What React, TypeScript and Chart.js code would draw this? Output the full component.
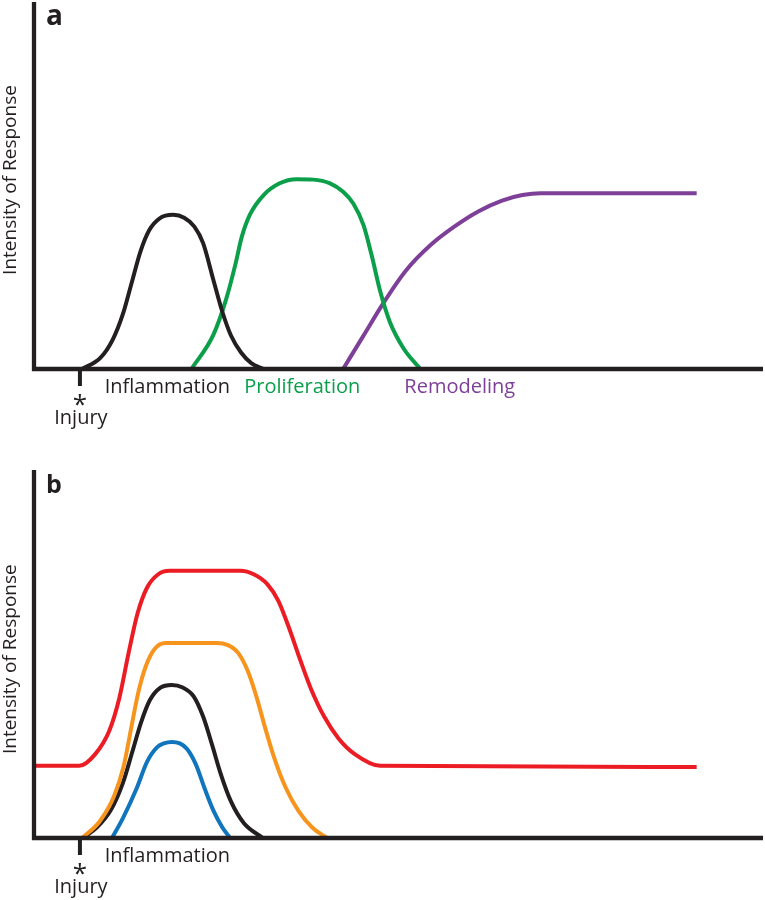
import React, { useEffect, useRef } from 'react';
import { Chart, registerables } from 'chart.js';

Chart.register(...registerables);

const FONT = '"Open Sans", "Noto Sans", sans-serif';
const INK = '#231f20';

// ---------- shared axis text ----------
const yAxisTitle = 'Intensity of Response';
const injuryLabel = 'Injury';
const injuryMark = '*';
const injuryDay = 6.3;

// ---------- panel a ----------
const phaseLabelsA = ['Inflammation', 'Proliferation', 'Remodeling'];
const phaseLabelXA = [18.3, 36.8, 58.4];
const phaseColorsA = [INK, '#0b9f4a', '#7d3f98'];

const inflammationAX = [6.6, 9.1, 10.8, 12.2, 13.4, 14.6, 15.8, 17.2, 19.1, 20.6, 22.0, 23.2, 24.6, 25.8, 27.0, 28.4, 29.8, 31.5];
const inflammationAY = [0, 3.0, 8.0, 15.0, 23.5, 32.0, 37.8, 41.0, 42.0, 41.2, 38.8, 34.3, 24.3, 15.8, 9.2, 4.5, 1.6, 0];

const proliferationX = [21.6, 24.6, 26.4, 27.6, 28.5, 29.6, 31.5, 33.7, 36.0, 38.3, 40.6, 42.4, 43.8, 45.2, 46.3, 47.5, 48.8, 50.7, 53.0];
const proliferationY = [0, 9.3, 19.3, 28.3, 36.0, 42.0, 47.4, 50.6, 51.7, 51.6, 50.6, 48.3, 45.1, 39.2, 31.1, 21.1, 12.9, 5.6, 0];

const remodelingX = [42.4, 45.2, 47.9, 51.0, 54.4, 57.8, 61.0, 64.2, 67.0, 69.5, 90.9];
const remodelingY = [0, 9.1, 17.9, 26.8, 33.8, 39.0, 43.0, 45.9, 47.4, 47.9, 47.9];

// ---------- panel b ----------
const phaseLabelsB = ['Inflammation'];
const phaseLabelXB = [18.3];
const phaseColorsB = [INK];

const redX = [0, 6.2, 8.4, 10.3, 11.7, 13.0, 14.2, 15.5, 17.0, 18.6, 28.3, 30.2, 32.0, 33.5, 35.0, 36.5, 38.0, 39.8, 41.8, 44.0, 47.5, 90.9];
const redY = [19.6, 19.6, 22.8, 29.0, 38.0, 50.5, 61.0, 68.0, 71.6, 72.6, 72.6, 71.6, 69.0, 64.5, 57.0, 48.5, 40.5, 33.0, 27.0, 22.8, 19.6, 19.3];

const orangeX = [6.6, 9.0, 11.0, 12.3, 13.3, 14.3, 15.4, 16.6, 18.0, 25.1, 26.6, 28.0, 29.3, 30.5, 31.7, 33.0, 34.5, 36.3, 38.2, 40.2];
const orangeY = [0, 4.5, 11.5, 19.5, 29.5, 39.5, 47.0, 51.5, 53.0, 53.0, 52.4, 50.3, 45.5, 38.5, 30.0, 21.5, 13.8, 7.3, 2.8, 0];

const blackBX = [6.7, 8.6, 10.6, 12.2, 13.5, 14.7, 15.9, 17.3, 18.9, 20.4, 21.9, 23.2, 24.4, 25.6, 27.0, 28.8, 31.4];
const blackBY = [0, 2.8, 7.8, 15.0, 23.5, 31.5, 37.5, 40.8, 41.6, 40.9, 38.5, 33.0, 25.5, 17.5, 10.0, 4.0, 0];

const blueX = [10.7, 12.2, 14.1, 15.5, 16.9, 17.8, 18.9, 20.0, 21.0, 22.2, 23.4, 24.6, 25.8, 26.9];
const blueY = [0, 5.4, 13.6, 20.7, 24.7, 25.7, 26.1, 25.7, 24.2, 20.0, 13.5, 7.5, 3.0, 0];

const toPoints = (xs: number[], ys: number[]) => xs.map((x, i) => ({ x, y: ys[i] }));

const line = (xs: number[], ys: number[], color: string) => ({
  data: toPoints(xs, ys),
  borderColor: color,
  backgroundColor: color,
  borderWidth: 4,
  pointRadius: 0,
  fill: false,
  cubicInterpolationMode: 'monotone' as const,
  borderCapStyle: 'butt' as const,
  borderJoinStyle: 'round' as const,
  clip: false as const,
});

type Decor = {
  letter: string;
  letterSize: number;
  labels: string[];
  labelX: number[];
  labelColors: string[];
  titleAt: number;
};

const decorPlugin = (cfg: Decor) => ({
  id: 'decor',
  afterDatasetsDraw(chart: any) {
    const { ctx, chartArea, scales } = chart;
    const { left, right, top, bottom } = chartArea;
    const xs = scales.x;
    const ys = scales.y;
    ctx.save();
    ctx.strokeStyle = INK;
    ctx.fillStyle = INK;
    ctx.lineWidth = 4.3;
    ctx.lineCap = 'butt';
    ctx.beginPath();
    ctx.moveTo(left, top);
    ctx.lineTo(left, bottom + 2);
    ctx.stroke();
    ctx.beginPath();
    ctx.moveTo(left - 2, bottom);
    ctx.lineTo(right, bottom);
    ctx.stroke();

    const ix = xs.getPixelForValue(injuryDay);
    ctx.lineWidth = 4;
    ctx.beginPath();
    ctx.moveTo(ix, bottom);
    ctx.lineTo(ix, bottom + 17);
    ctx.stroke();

    ctx.textAlign = 'center';
    ctx.textBaseline = 'alphabetic';
    ctx.font = `20px ${FONT}`;
    cfg.labels.forEach((l, i) => {
      ctx.fillStyle = cfg.labelColors[i];
      ctx.fillText(l, xs.getPixelForValue(cfg.labelX[i]), bottom + 24);
    });

    ctx.fillStyle = INK;
    ctx.font = `26px ${FONT}`;
    const m = ctx.measureText(injuryMark);
    const cy = bottom + 31;
    ctx.fillText(injuryMark, ix, cy + (m.actualBoundingBoxAscent - m.actualBoundingBoxDescent) / 2);
    ctx.font = `20px ${FONT}`;
    ctx.fillText(injuryLabel, ix + 1, bottom + 55);

    ctx.font = `bold ${cfg.letterSize}px ${FONT}`;
    ctx.textAlign = 'left';
    ctx.fillText(cfg.letter, left + 12, top + 23);

    ctx.translate(11, ys.getPixelForValue(cfg.titleAt));
    ctx.rotate(-Math.PI / 2);
    ctx.font = `19px ${FONT}`;
    ctx.textAlign = 'center';
    ctx.textBaseline = 'middle';
    ctx.fillText(yAxisTitle, 0, 0);
    ctx.restore();
  },
});

const makeConfig = (datasets: any[], padding: any, cfg: Decor): any => ({
  type: 'line',
  data: { datasets },
  options: {
    responsive: false,
    animation: false,
    devicePixelRatio: 1,
    layout: { padding },
    scales: {
      x: { type: 'linear', min: 0, max: 100, display: false },
      y: { type: 'linear', min: 0, max: 100, display: false },
    },
    plugins: { legend: { display: false }, tooltip: { enabled: false } },
  },
  plugins: [decorPlugin(cfg)],
});

export default function App() {
  const refA = useRef<HTMLCanvasElement>(null);
  const refB = useRef<HTMLCanvasElement>(null);

  useEffect(() => {
    const a = new Chart(
      refA.current!,
      makeConfig(
        [
          line(inflammationAX, inflammationAY, INK),
          line(proliferationX, proliferationY, '#0b9f4a'),
          line(remodelingX, remodelingY, '#7d3f98'),
        ],
        { left: 34, right: 2, top: 2, bottom: 71 },
        { letter: 'a', letterSize: 28, labels: phaseLabelsA, labelX: phaseLabelXA, labelColors: phaseColorsA, titleAt: 51.5 }
      )
    );
    const b = new Chart(
      refB.current!,
      makeConfig(
        [
          line(redX, redY, '#ec1c24'),
          line(orangeX, orangeY, '#f7941d'),
          line(blackBX, blackBY, INK),
          line(blueX, blueY, '#1075bc'),
        ],
        { left: 34, right: 2, top: 30, bottom: 62 },
        { letter: 'b', letterSize: 25, labels: phaseLabelsB, labelX: phaseLabelXB, labelColors: phaseColorsB, titleAt: 48.6 }
      )
    );
    return () => {
      a.destroy();
      b.destroy();
    };
  }, []);

  return (
    <div style={{ position: 'absolute', left: 0, top: 0, width: 765, height: 900, background: '#fff' }}>
      <canvas ref={refA} width={765} height={440} style={{ display: 'block', width: 765, height: 440 }} />
      <canvas ref={refB} width={765} height={460} style={{ display: 'block', width: 765, height: 460 }} />
    </div>
  );
}
